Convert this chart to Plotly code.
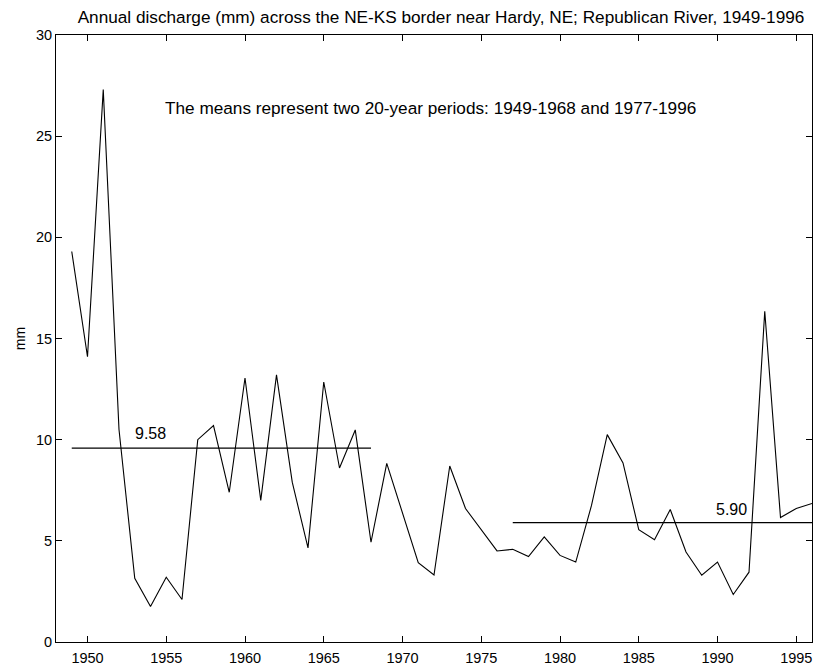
import plotly.graph_objects as go

years = list(range(1949, 1997))
discharge = [19.3, 14.1, 27.3, 10.5, 3.15, 1.75, 3.2, 2.1, 10.0, 10.7,
             7.4, 13.05, 7.0, 13.2, 7.9, 4.65, 12.85, 8.6, 10.48, 4.93,
             8.83, 6.4, 3.92, 3.31, 8.7, 6.6, 5.55, 4.5, 4.58, 4.22,
             5.2, 4.28, 3.95, 6.75, 10.25, 8.85, 5.55, 5.05, 6.55, 4.45,
             3.3, 3.95, 2.35, 3.45, 16.35, 6.15, 6.6, 6.85]
mean_periods = [(1949, 1968), (1977, 1996)]
mean_values = [9.58, 5.90]
mean_labels = ["9.58", "5.90"]
mean_label_pos = [(1954.0, 10.3), (1990.9, 6.55)]
x_ticks = [1950, 1955, 1960, 1965, 1970, 1975, 1980, 1985, 1990, 1995]
y_ticks = [0, 5, 10, 15, 20, 25, 30]

fig = go.Figure()
fig.add_trace(go.Scatter(x=years, y=discharge, mode="lines",
                         line=dict(color="black", width=1.1), showlegend=False))
for (a, b), m in zip(mean_periods, mean_values):
    fig.add_trace(go.Scatter(x=[a, b], y=[m, m], mode="lines",
                             line=dict(color="black", width=1.1), showlegend=False))
for lab, (lx, ly) in zip(mean_labels, mean_label_pos):
    fig.add_annotation(x=lx, y=ly, text=lab, showarrow=False,
                       font=dict(size=16, color="black"))
fig.add_annotation(x=(430 - 56) / 756, y=(642 - 96) / 607, xref="paper", yref="paper",
                   showarrow=False,
                   text="The means represent two 20-year periods: 1949-1968 and 1977-1996",
                   font=dict(size=17.2, color="black"))

axis_common = dict(showline=True, linecolor="black", linewidth=1, mirror="ticks",
                   ticks="inside", ticklen=6, tickcolor="black", showgrid=False,
                   zeroline=False, automargin=False,
                   tickfont=dict(size=14.5, color="black"))
fig.update_xaxes(range=[1948, 1996], tickvals=x_ticks, ticklabeloverflow="allow",
                 ticklabelstandoff=3, **axis_common)
fig.update_yaxes(range=[0, 30], tickvals=y_ticks,
                 title=dict(text="mm", font=dict(size=14, color="black"), standoff=7),
                 **axis_common)
fig.update_layout(
    width=819, height=666,
    margin=dict(l=56, r=7, t=35, b=24),
    plot_bgcolor="white", paper_bgcolor="white",
    font=dict(family="Liberation Sans, Arial, sans-serif", color="black"),
    title=dict(text="Annual discharge (mm) across the NE-KS border near Hardy, NE; Republican River, 1949-1996",
               x=441 / 819, xanchor="center", y=1 - 17 / 666, yanchor="middle",
               font=dict(size=17.2, color="black")),
)
fig.write_html("out.html", config={"displayModeBar": False},
               post_script="document.body.style.margin='0';document.body.style.overflow='hidden';")
